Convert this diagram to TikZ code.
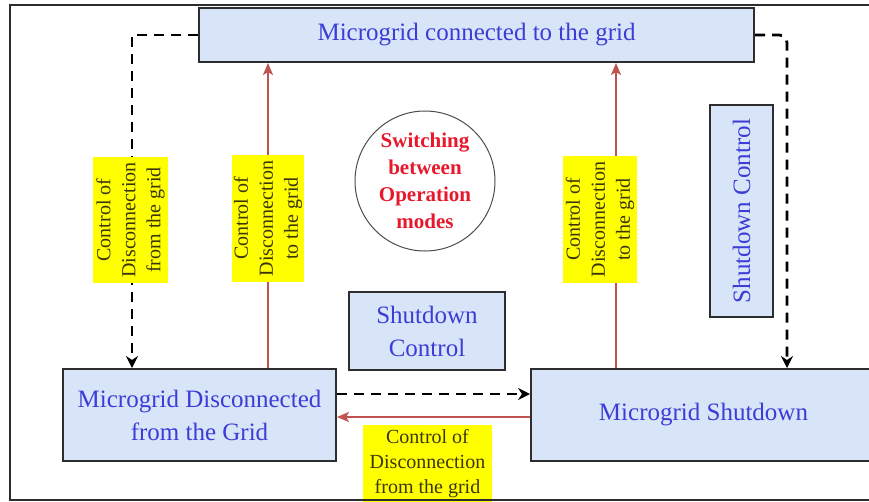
\documentclass[tikz,border=0pt]{standalone}
\usepackage{fontspec}
\setmainfont{Liberation Serif}
\newfontfamily\diagramface{Liberation Serif}
\usetikzlibrary{arrows.meta}
\definecolor{boxfill}{RGB}{216,229,248}
\definecolor{boxline}{RGB}{45,45,45}
\definecolor{boxtext}{RGB}{60,60,215}
\definecolor{redline}{RGB}{192,82,80}
\definecolor{redtext}{RGB}{232,24,44}
\definecolor{tagfill}{RGB}{255,255,0}
\definecolor{tagtext}{RGB}{60,55,10}
\begin{document}
\begin{tikzpicture}[x=1pt,y=-1pt,
  statebox/.style={draw=boxline, line width=2pt, fill=boxfill, text=boxtext,
    align=center, inner sep=0pt, font=\diagramface\fontsize{25}{33}\selectfont},
  tag/.style={fill=tagfill, text=tagtext, align=center, inner sep=0pt,
    font=\diagramface\fontsize{20}{25}\selectfont},
  dashflow/.style={line width=2.8pt, dash pattern=on 10pt off 7pt,
    -{Stealth[length=12pt,width=12pt,inset=4pt]}},
  redflow/.style={draw=redline, line width=2pt, -{Stealth[length=12pt,width=10pt,inset=3pt]}},
]
\useasboundingbox (0,0) rectangle (869,501);
\clip (0,0) rectangle (869,501);

% operating states
\node[statebox, minimum width=555pt, minimum height=54pt] (grid) at (476.5,35)
  {Microgrid connected to the grid};
\node[statebox, minimum width=273pt, minimum height=92pt] (island) at (199.5,415)
  {Microgrid Disconnected\\from the Grid};
\node[statebox, minimum width=345pt, minimum height=92pt] (off) at (703.5,415)
  {Microgrid Shutdown};

% shutdown control boxes
\node[statebox, minimum width=156pt, minimum height=78pt] (sdmid) at (427,331)
  {Shutdown\\Control};
\node[statebox, rotate=90, minimum width=212pt, minimum height=63pt] (sdside) at (741.5,211)
  {Shutdown Control};

% central title
\node[draw=boxline!85, line width=1pt, circle, minimum size=140pt, inner sep=0pt,
  text=redtext, align=center, font=\diagramface\bfseries\fontsize{21}{27}\selectfont] (modes) at (425,181)
  {Switching\\between\\Operation\\modes};

% transitions
\coordinate (lcorner) at (132,35);
\coordinate (rcorner) at (787,35);
\draw[dashflow] (grid.west) -- (lcorner) -- (lcorner |- island.north);
\draw[dashflow, rounded corners=8pt] (grid.east) -- (rcorner) -- (rcorner |- off.north);
\draw[dashflow] ([yshift=21pt]island.east) -- ([yshift=21pt]off.west);
\draw[redflow] ([yshift=-2pt]off.west) -- ([yshift=-2pt]island.east);
\draw[redflow] ([xshift=68.5pt]island.north) -- ([xshift=68.5pt]island.north |- grid.south);
\draw[redflow] ([xshift=-87.5pt]off.north) -- ([xshift=-87.5pt]off.north |- grid.south);

% transition labels
\node[tag, rotate=90, minimum width=126pt, minimum height=75pt] (t1) at (130.5,220)
  {Control of\\Disconnection\\from the grid};
\node[tag, rotate=90, minimum width=127pt, minimum height=72pt] (t2) at (268,218.5)
  {Control of\\Disconnection\\to the grid};
\node[tag, rotate=90, minimum width=127pt, minimum height=74pt] (t3) at (600,219.5)
  {Control of\\Disconnection\\to the grid};
\node[tag, minimum width=129pt, minimum height=78pt] (t4) at (427.5,464)
  {Control of\\Disconnection\\from the grid};

% outer frame
\draw[boxline, line width=2pt] (869,5) -- (10,5) -- (10,500) -- (869,500);
\end{tikzpicture}
\end{document}
